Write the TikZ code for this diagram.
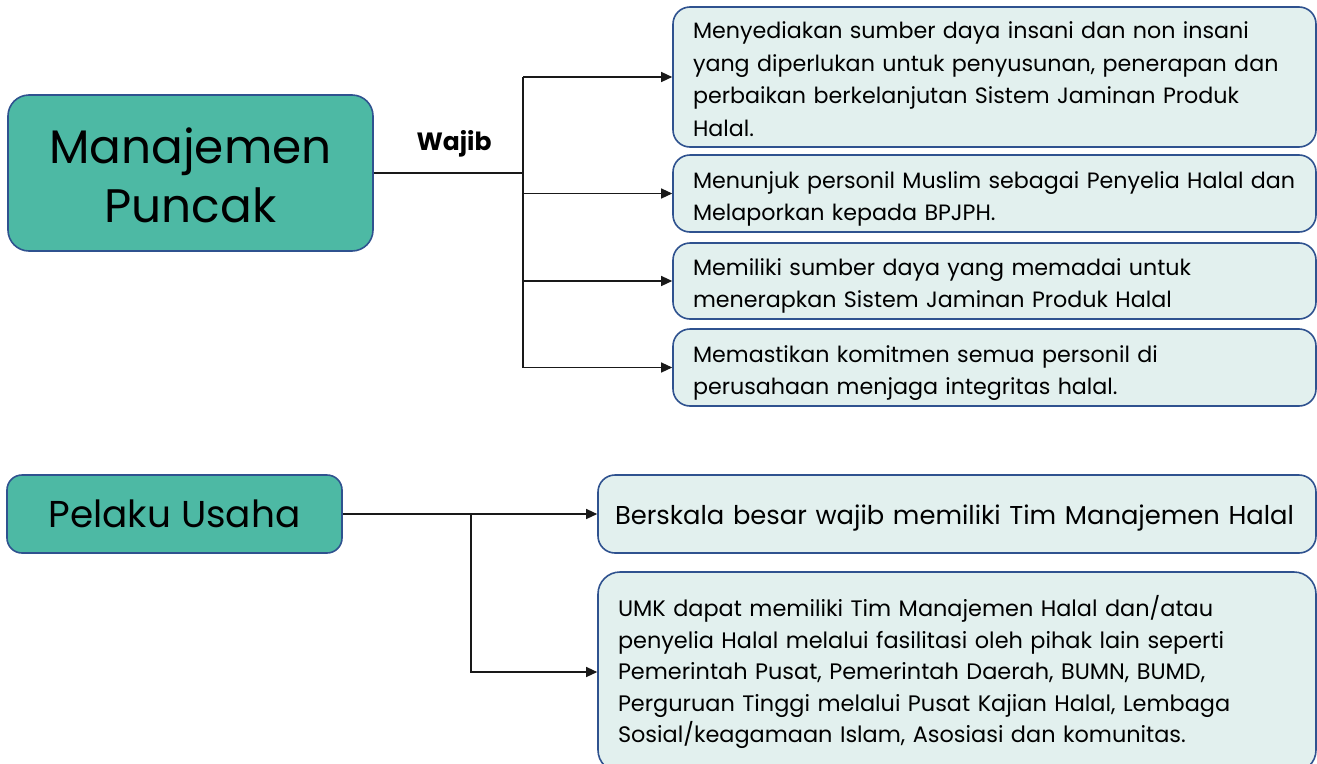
\documentclass[tikz,border=0pt]{standalone}
\usepackage{fontspec}
\setmainfont{Poppins}
\usetikzlibrary{arrows.meta}
\definecolor{tealfill}{HTML}{4DB9A4}
\definecolor{edgeblue}{HTML}{2F528F}
\definecolor{lightfill}{HTML}{E2F0EE}
\newcommand\mystrut[1]{\rule{0pt}{#1}}
\begin{document}
\begin{tikzpicture}[x=1pt,y=-1pt,
  mainbox/.style={draw=edgeblue, line width=1.6pt, fill=tealfill, rounded corners=21pt, inner sep=0pt, align=center},
  itembox/.style={draw=edgeblue, line width=1.6pt, fill=lightfill, rounded corners=17pt, align=left, inner xsep=20pt, inner ysep=0pt, font=\fontsize{22.2}{32.5}\selectfont},
  conn/.style={line width=1.3pt, draw=black!90},
  arr/.style={conn, -{Triangle[length=11pt,width=10pt]}}]
\useasboundingbox (0,0) rectangle (1317,763);

\node[mainbox, minimum width=365pt, minimum height=156pt, font=\fontsize{47}{59}\selectfont] (mp) at (190.5,173) {\mystrut{41pt}Manajemen\\Puncak};
\node[font=\fontsize{25}{30}\selectfont\bfseries] (wajib) at (454,144) {Wajib};

\node[itembox, minimum width=643pt, minimum height=140pt, text width=603pt] (s1) at (994.5,77)
  {\mystrut{21pt}Menyediakan sumber daya insani dan non insani\\yang diperlukan untuk penyusunan, penerapan dan\\perbaikan berkelanjutan Sistem Jaminan Produk\\Halal.};
\node[itembox, minimum width=643pt, minimum height=77pt, text width=603pt] (s2) at (994.5,193.5)
  {\mystrut{28pt}Menunjuk personil Muslim sebagai Penyelia Halal dan\\Melaporkan kepada BPJPH.};
\node[itembox, minimum width=643pt, minimum height=76pt, text width=603pt] (s3) at (994.5,281)
  {\mystrut{27pt}Memiliki sumber daya yang memadai untuk\\menerapkan Sistem Jaminan Produk Halal};
\node[itembox, minimum width=643pt, minimum height=77pt, text width=603pt] (s4) at (994.5,367.5)
  {\mystrut{28pt}Memastikan komitmen semua personil di\\perusahaan menjaga integritas halal.};

\coordinate (j1) at (523,173);
\coordinate (jt) at (523,77);
\coordinate (jb) at (523,367.5);
\draw[conn] (mp.east) -- (j1);
\draw[conn] (jt) -- (jb);
\draw[arr] (jt) -- (s1.west);
\draw[arr] (j1) |- (s2.west);
\draw[arr] (j1) |- (s3.west);
\draw[arr] (jb) -- (s4.west);

\node[mainbox, rounded corners=15pt, minimum width=335pt, minimum height=78pt, font=\fontsize{37.4}{46}\selectfont] (pu) at (174.5,514) {Pelaku Usaha};

\node[itembox, minimum width=718pt, minimum height=78pt, text width=684pt, inner xsep=17pt, font=\fontsize{25.8}{30}\selectfont] (b1) at (957,514)
  {\mystrut{27pt}Berskala besar wajib memiliki Tim Manajemen Halal};
\node[itembox, rounded corners=22pt, minimum width=718pt, minimum height=200pt, text width=678pt, inner xsep=20pt, font=\fontsize{22.4}{31.5}\selectfont] (b2) at (957,672)
  {UMK dapat memiliki Tim Manajemen Halal dan/atau\\penyelia Halal melalui fasilitasi oleh pihak lain seperti\\Pemerintah Pusat, Pemerintah Daerah, BUMN, BUMD,\\Perguruan Tinggi melalui Pusat Kajian Halal, Lembaga\\Sosial/keagamaan Islam, Asosiasi dan komunitas.};

\coordinate (k1) at (471,514);
\draw[arr] (pu.east) -- (b1.west);
\draw[arr] (k1) |- (b2.west);
\end{tikzpicture}
\end{document}
